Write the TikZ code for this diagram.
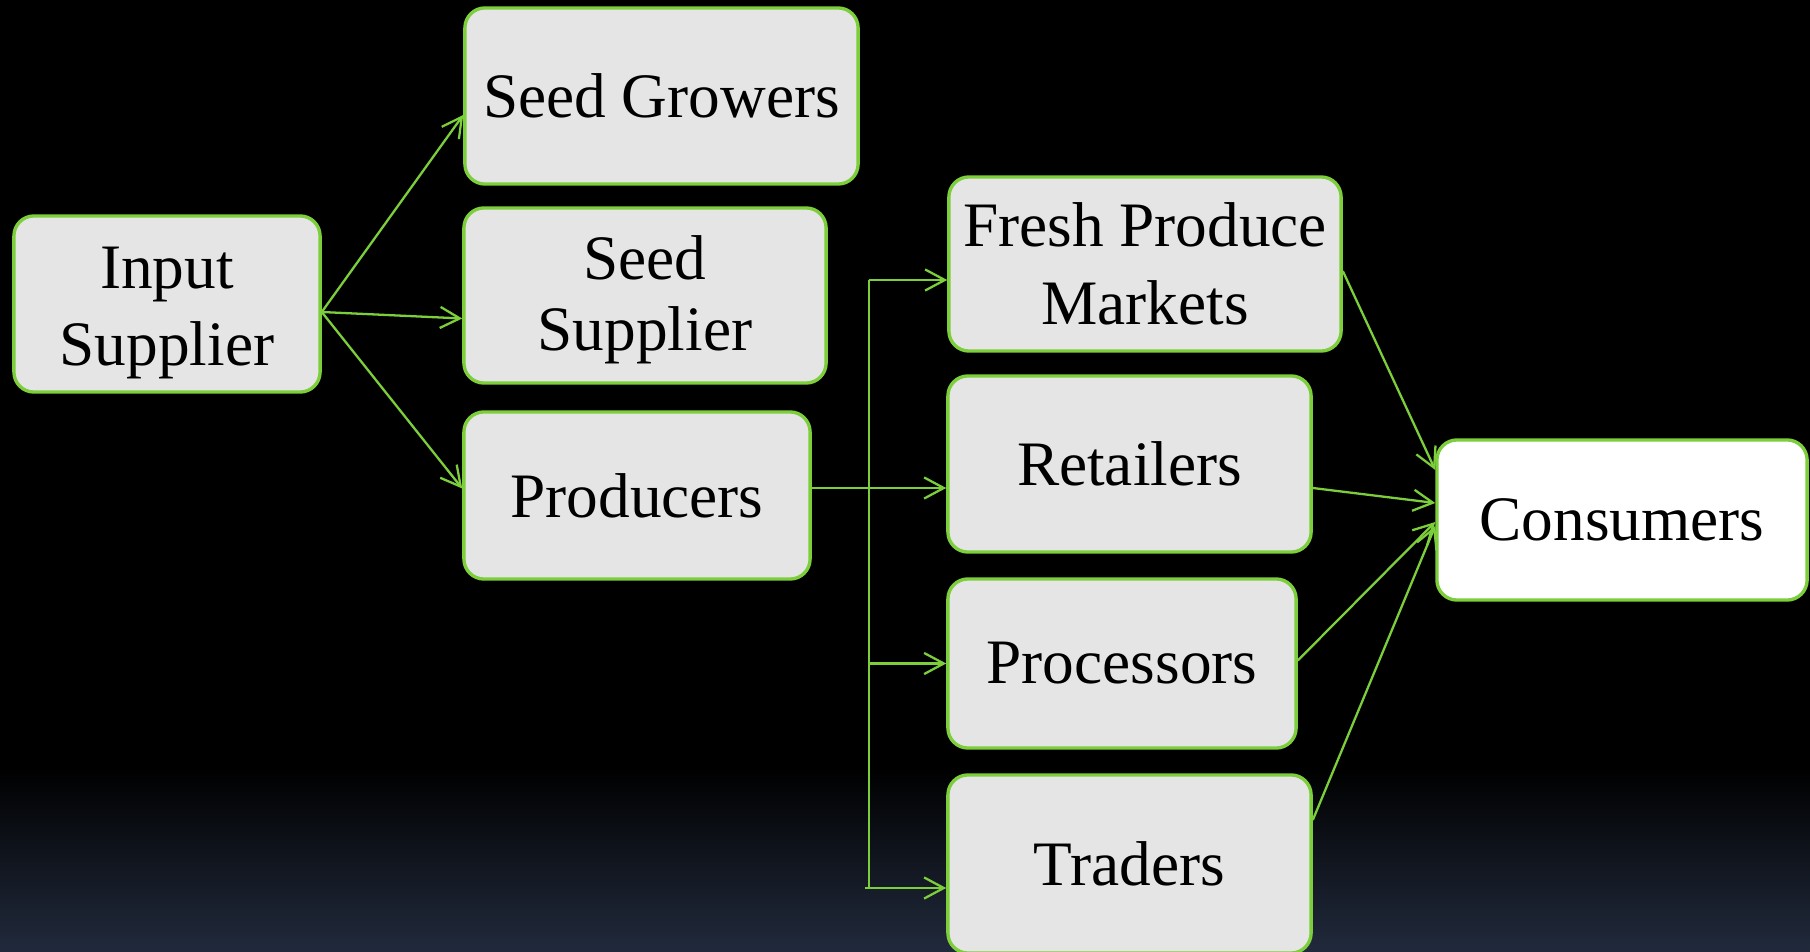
\documentclass[tikz,border=0pt]{standalone}
\usepackage{fontspec}
\setmainfont{Liberation Serif}
\usepackage{xcolor}
\usetikzlibrary{arrows.meta,calc}
\definecolor{leaf}{RGB}{124,206,58}
\definecolor{boxgray}{RGB}{229,229,229}
\definecolor{navy}{RGB}{33,42,60}

\begin{document}
\begin{tikzpicture}[x=0.01cm,y=-0.01cm,
    box/.style={draw=leaf,line width=0.95pt,rounded corners=0.2cm,fill=boxgray,align=center,inner sep=0pt,font=\fontsize{18}{22}\selectfont},
    flow/.style={draw=leaf,line width=0.65pt,-{Straight Barb[length=5.6pt,width=6pt]}},
    link/.style={draw=leaf,line width=0.65pt}]
        % Background
        \useasboundingbox (0,0) rectangle (1810,952);
        \fill[black] (0,0) rectangle (1810,952);
        \shade[top color=black,bottom color=navy] (0,767) rectangle (1810,952);
        % Suppliers
        \draw (167,304) node[box,minimum width=3.06cm,minimum height=1.76cm,text height=39pt](insup) {Input\\Supplier};
        \draw (661.5,96) node[box,minimum width=3.93cm,minimum height=1.76cm](seedgrow) {Seed Growers};
        \draw (645,295.5) node[box,minimum width=3.62cm,minimum height=1.75cm,font=\fontsize{18}{20}\selectfont,text height=35pt](seedsup) {Seed\\Supplier};
        \draw (637,495.5) node[box,minimum width=3.46cm,minimum height=1.67cm](prod) {Producers};
        \draw[flow] ($(insup.east)+(0,8)$) -- ($(seedgrow.west)+(0,19)$);
        \draw[flow] ($(insup.east)+(0,8)$) -- ($(seedsup.west)+(0,23)$);
        \draw[flow] ($(insup.east)+(0,8)$) -- ($(prod.west)+(0,-7)$);
        % Channels
        \draw (1145,264) node[box,minimum width=3.92cm,minimum height=1.74cm](fpm) {Fresh Produce\\Markets};
        \draw (1129.5,464) node[box,minimum width=3.63cm,minimum height=1.76cm](retail) {Retailers};
        \draw (1122,663.5) node[box,minimum width=3.48cm,minimum height=1.69cm](proc) {Processors};
        \draw (1129.5,864) node[box,minimum width=3.63cm,minimum height=1.78cm](trade) {Traders};
        \coordinate (bustop) at (869,280);
        \coordinate (split) at (869,488);
        \coordinate (busbot) at (869,888);
        \draw[link] (bustop) -- (busbot);
        \draw[flow] (prod.east |- split) -- (split -| retail.west);
        \draw[flow] (bustop) -- (bustop -| fpm.west);
        \draw[flow] (split |- proc.west) -- (proc.west);
        \draw[flow] ($(busbot)+(-4,0)$) -- (busbot -| trade.west);
        % Consumers
        \draw (1622,520) node[box,fill=white,minimum width=3.70cm,minimum height=1.60cm](cons) {Consumers};
        \draw[flow] ($(fpm.east)+(0,7)$) -- ($(cons.west)+(0,-50)$);
        \draw[flow] ($(retail.east)+(0,24)$) -- ($(cons.west)+(0,-17)$);
        \draw[flow] ($(proc.east)+(0,-3)$) -- ($(cons.west)+(0,2)$);
        \draw[flow] ($(trade.east)+(0,-44)$) -- ($(cons.west)+(0,6)$);
\end{tikzpicture}
\end{document}
